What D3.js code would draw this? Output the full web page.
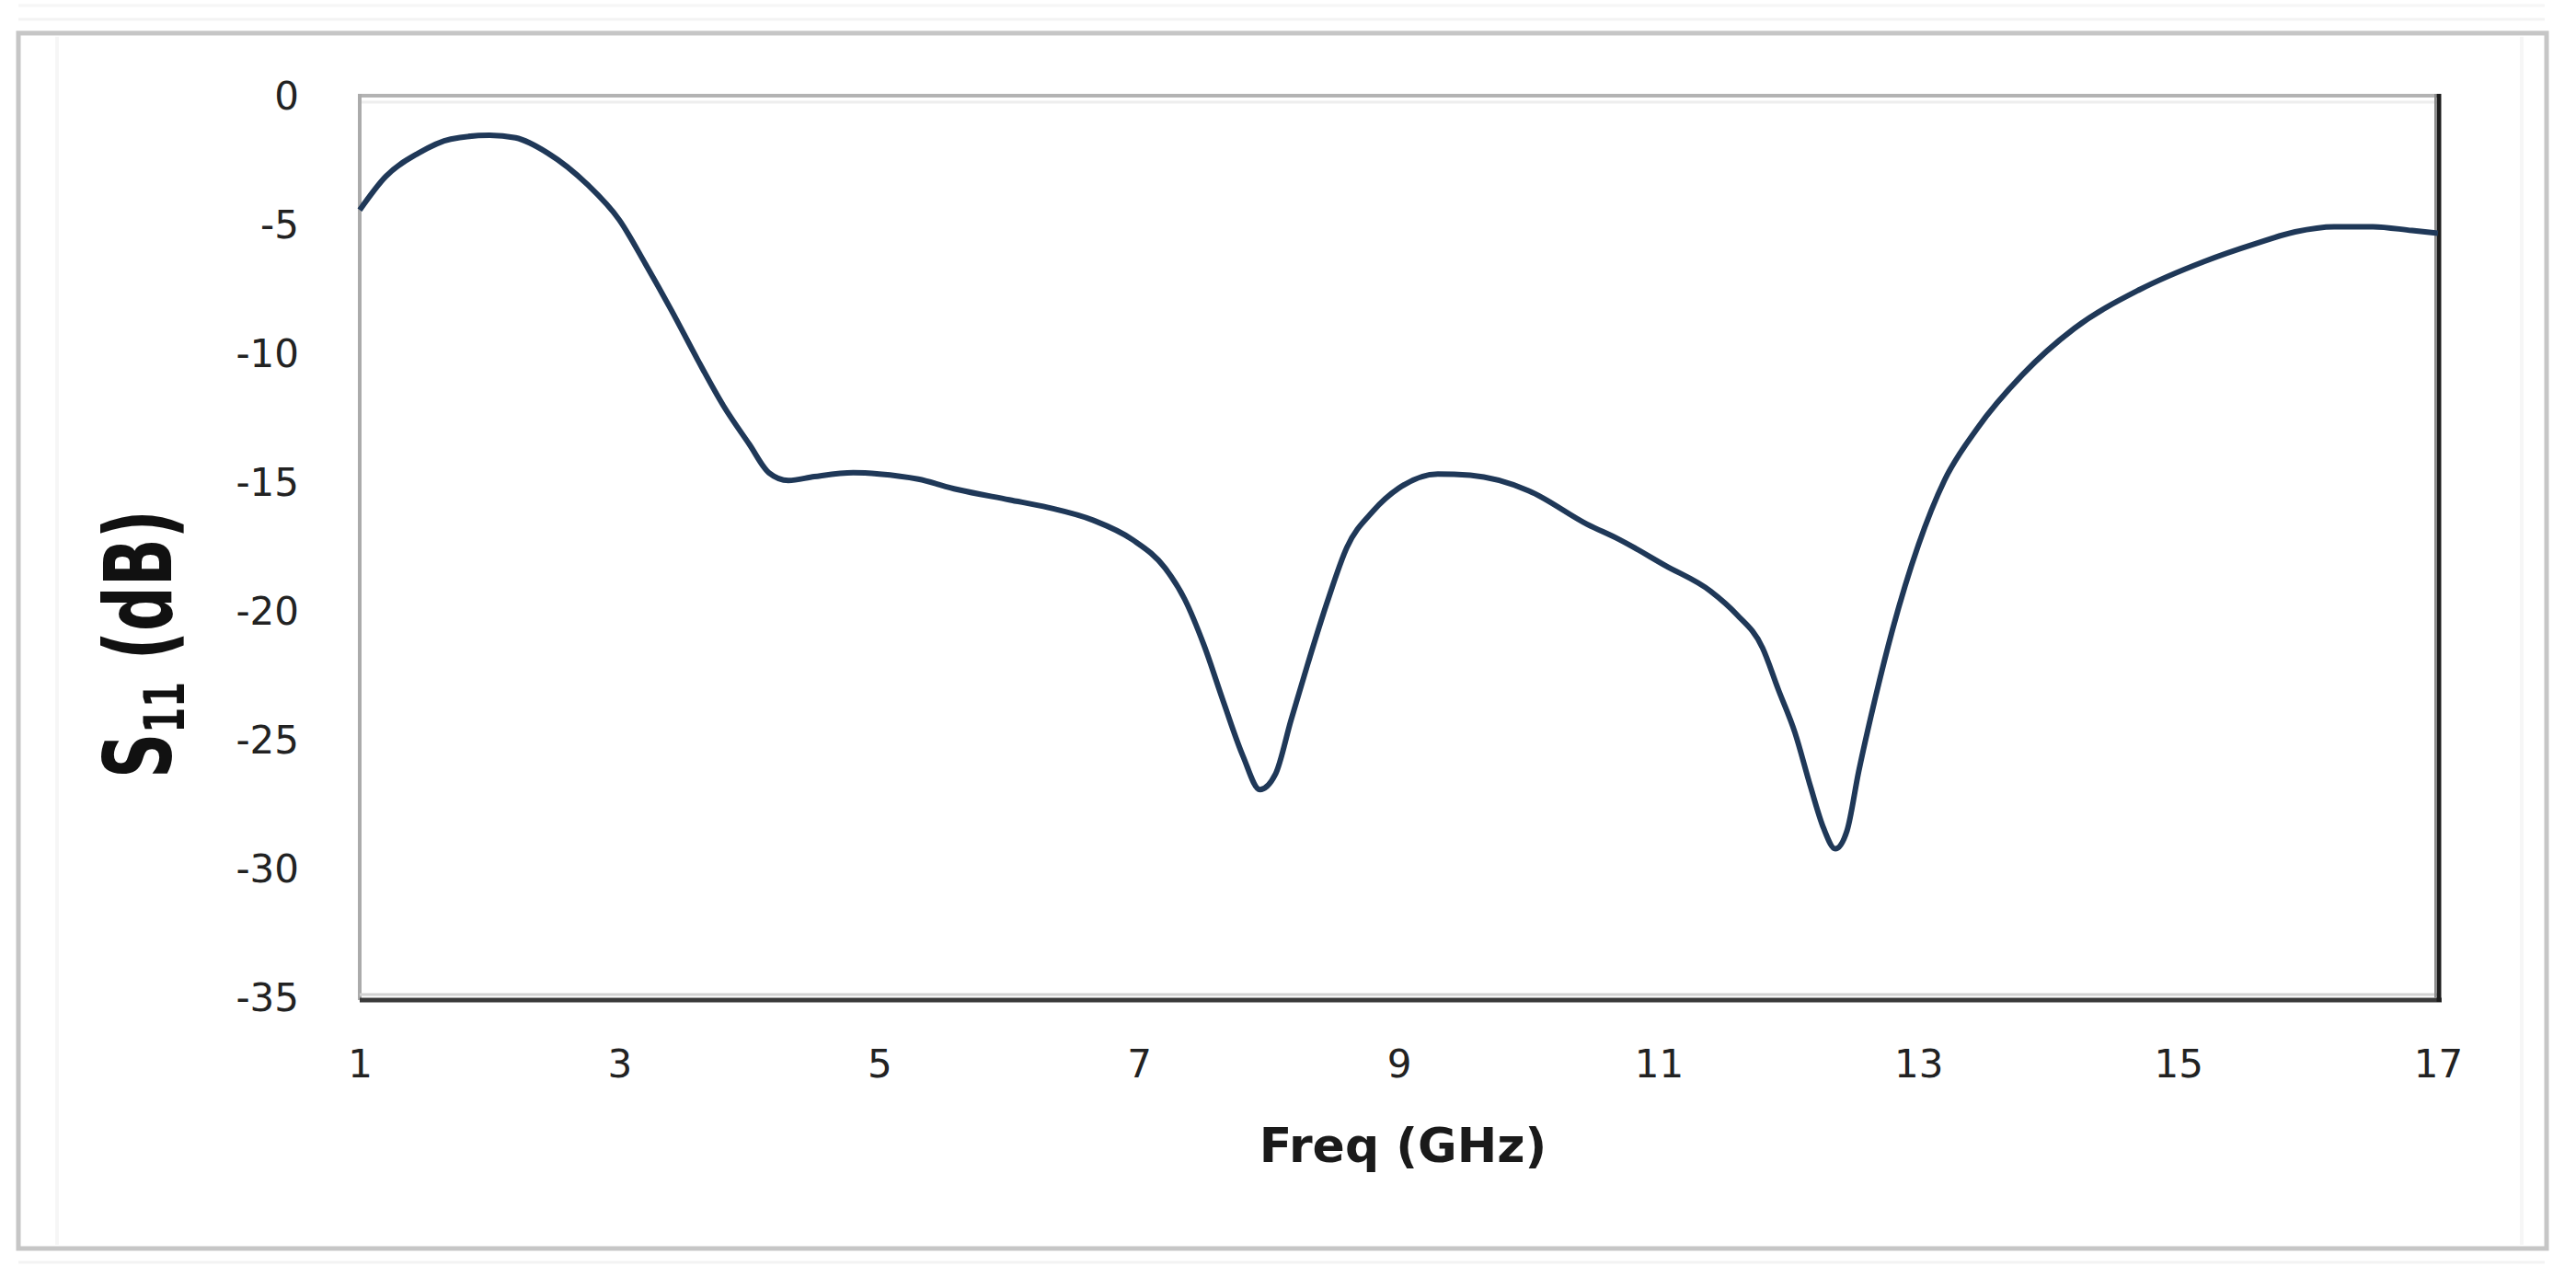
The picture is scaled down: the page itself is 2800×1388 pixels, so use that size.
<!DOCTYPE html>
<html><head><meta charset="utf-8">
<script src="https://cdn.jsdelivr.net/npm/d3@7/dist/d3.min.js"></script>
<style>html,body{margin:0;padding:0;background:#fff;}svg{display:block}</style>
</head><body>
<svg id="chart" width="2800" height="1388"></svg>
<script>
// ---- data ----
const freqGHz = [1.0,1.2,1.45,1.7,2.0,2.2,2.45,2.75,3.0,3.2,3.4,3.6,3.8,4.0,4.15,4.3,4.5,4.8,5.0,5.3,5.6,6.0,6.3,6.65,6.95,7.2,7.35,7.5,7.65,7.8,7.93,8.05,8.17,8.3,8.45,8.6,8.8,9.0,9.3,9.55,10.0,10.45,10.7,11.05,11.4,11.6,11.8,11.92,12.05,12.17,12.27,12.36,12.45,12.54,12.67,12.8,13.0,13.2,13.45,13.8,14.2,14.7,15.2,15.6,15.9,16.2,16.5,16.8,17.0];
const s11dB = [-4.4,-3.1,-2.2,-1.65,-1.5,-1.6,-2.2,-3.4,-4.8,-6.5,-8.3,-10.2,-12.0,-13.5,-14.6,-14.9,-14.75,-14.6,-14.65,-14.85,-15.25,-15.65,-15.95,-16.45,-17.2,-18.3,-19.5,-21.3,-23.5,-25.6,-26.9,-26.3,-24.2,-22.0,-19.6,-17.5,-16.1,-15.2,-14.65,-14.7,-15.3,-16.6,-17.2,-18.2,-19.2,-20.1,-21.4,-23.0,-24.7,-26.8,-28.4,-29.2,-28.5,-26.2,-23.3,-20.7,-17.4,-14.9,-12.9,-10.8,-9.0,-7.5,-6.4,-5.7,-5.25,-5.05,-5.05,-5.2,-5.3];
const xTickValues = [1,3,5,7,9,11,13,15,17];
const yTickValues = [0,-5,-10,-15,-20,-25,-30,-35];
const xDomain = [1,17];
const yDomain = [0,-35];
const xTitle = "Freq (GHz)";
const yTitleMain = "S";
const yTitleSub = "11";
const yTitleRest = " (dB)";

// ---- layout ----
const svg = d3.select("#chart");
const L = 391, R = 2650, T = 105, B = 1085;
const x = d3.scaleLinear().domain(xDomain).range([L, R]);
const y = d3.scaleLinear().domain(yDomain).range([T, B]);

svg.append("rect").attr("width",2800).attr("height",1388).attr("fill","#fff");
// faint scan lines
svg.append("line").attr("x1",20).attr("x2",2766).attr("y1",6).attr("y2",6).attr("stroke","#f6f6f6").attr("stroke-width",3);
svg.append("line").attr("x1",20).attr("x2",2766).attr("y1",21).attr("y2",21).attr("stroke","#f3f3f3").attr("stroke-width",3);
svg.append("line").attr("x1",20).attr("x2",2766).attr("y1",1372).attr("y2",1372).attr("stroke","#f3f3f3").attr("stroke-width",3);
svg.append("line").attr("x1",62).attr("x2",62).attr("y1",40).attr("y2",1353).attr("stroke","#f6f6f6").attr("stroke-width",4);
svg.append("line").attr("x1",2741).attr("x2",2741).attr("y1",40).attr("y2",1353).attr("stroke","#f6f6f6").attr("stroke-width",4);
// outer frame
svg.append("rect").attr("x",20).attr("y",36).attr("width",2748).attr("height",1321)
  .attr("fill","none").attr("stroke","#c6c6c6").attr("stroke-width",5);

// plot frame
const g = svg.append("g");
g.append("line").attr("x1",L).attr("x2",R).attr("y1",T+6).attr("y2",T+6).attr("stroke","#eeeeee").attr("stroke-width",3);
g.append("line").attr("x1",L-2).attr("x2",R).attr("y1",T-1).attr("y2",T-1).attr("stroke","#b3b3b3").attr("stroke-width",4);
g.append("line").attr("x1",L).attr("x2",L).attr("y1",T-3).attr("y2",B+2).attr("stroke","#ababab").attr("stroke-width",4);
g.append("line").attr("x1",L).attr("x2",R).attr("y1",B-4).attr("y2",B-4).attr("stroke","#d2d2d2").attr("stroke-width",3);
g.append("line").attr("x1",L).attr("x2",R+4).attr("y1",B+2).attr("y2",B+2).attr("stroke","#3a3a3a").attr("stroke-width",5);
g.append("line").attr("x1",R-3).attr("x2",R-3).attr("y1",T-3).attr("y2",B).attr("stroke","#8c8c8c").attr("stroke-width",2);
g.append("line").attr("x1",R+1).attr("x2",R+1).attr("y1",T-3).attr("y2",B+4).attr("stroke","#1c1c1c").attr("stroke-width",5);

// axes (labels only)
const fmt = d => String(d);
const yAxis = svg.append("g").attr("transform",`translate(${L},0)`)
  .call(d3.axisLeft(y).tickValues(yTickValues).tickSize(0).tickPadding(66).tickFormat(fmt));
const xAxis = svg.append("g").attr("transform",`translate(0,${B})`)
  .call(d3.axisBottom(x).tickValues(xTickValues).tickSize(0).tickPadding(56).tickFormat(fmt));
[yAxis,xAxis].forEach(a=>{
  a.select(".domain").remove();
  a.selectAll("text").attr("font-family","'DejaVu Sans', sans-serif").attr("font-size",42).attr("fill","#222");
});

// curve
const line = d3.line().x((d,i)=>x(freqGHz[i])).y(d=>y(d)).curve(d3.curveMonotoneX);
svg.append("path").datum(s11dB).attr("d",line).attr("fill","none")
  .attr("stroke","#1f3858").attr("stroke-width",6).attr("stroke-linejoin","round");

// x title
svg.append("text").attr("x",1525).attr("y",1263).attr("text-anchor","middle")
  .attr("font-family","'DejaVu Sans', sans-serif").attr("font-weight","bold").attr("font-size",52)
  .attr("fill","#1a1a1a").text(xTitle);

// y title
const yg = svg.append("g").attr("transform","translate(186,700) rotate(-90)");
const yi = yg.append("g");
const yt = yi.append("text").attr("text-anchor","middle")
  .attr("font-family","'DejaVu Sans', sans-serif").attr("font-weight","bold").attr("font-size",102).attr("fill","#111");
yt.append("tspan").text(yTitleMain);
yt.append("tspan").attr("font-size",60).attr("dy",14).text(yTitleSub);
yt.append("tspan").attr("dy",-14).text(yTitleRest);
const natural = yt.node().getComputedTextLength();
yi.attr("transform",`scale(${292/natural},1)`);
</script>
</body></html>
